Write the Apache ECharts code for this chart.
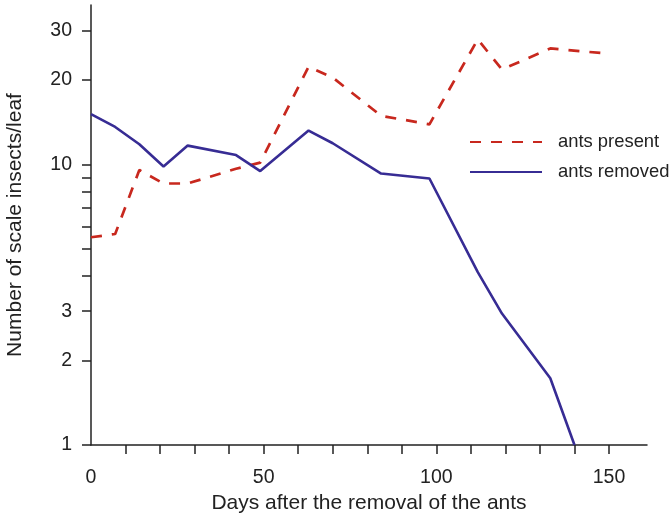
<!DOCTYPE html>
<html>
<head>
<meta charset="utf-8">
<script src="https://cdn.jsdelivr.net/npm/echarts@6/dist/echarts.min.js"></script>
<style>
  html, body { margin: 0; padding: 0; background: #fff; }
  #chart { width: 672px; height: 519px; }
</style>
</head>
<body>
<div id="chart"></div>
<script>
// Sampling days (days after ant removal)
const daysPresent = [0, 7, 14, 21, 28, 42, 49, 63, 70, 84, 98, 112, 119, 133, 150];
const antsPresent = [5.5, 5.65, 9.55, 8.55, 8.55, 9.65, 10.15, 22.3, 20.4, 14.9, 13.9, 27.9, 21.8, 25.9, 24.8];

const daysRemoved = [0, 7, 14, 21, 28, 42, 49, 63, 70, 84, 98, 112, 119, 133, 140];
const antsRemoved = [15.1, 13.6, 11.8, 9.83, 11.67, 10.8, 9.47, 13.2, 11.9, 9.28, 8.91, 4.13, 2.94, 1.73, 1.0];

// Axis ticks and labels
const xTicks = [10, 20, 30, 40, 50, 60, 70, 80, 90, 100, 110, 120, 130, 140, 150];
const xLabels = [0, 50, 100, 150];
const yTicks = [1, 2, 3, 4, 5, 6, 7, 8, 9, 10, 20, 30];
const yLabels = [1, 2, 3, 10, 20, 30];

const pairs = (xs, ys) => xs.map((x, i) => [x, ys[i]]);

const axisColor = '#222';
const font = '"Liberation Sans", Arial, sans-serif';

const chart = echarts.init(document.getElementById('chart'));
chart.setOption({
  animation: false,
  grid: { left: 91, top: 5, right: 25, bottom: 74, containLabel: false, outerBoundsMode: 'none' },
  legend: {
    orient: 'vertical',
    left: 464,
    top: 128,
    itemWidth: 72,
    itemHeight: 14,
    itemGap: 12,
    itemStyle: { opacity: 0 },
    textStyle: { fontFamily: font, fontSize: 18.4, color: '#222', padding: [0, 0, 0, 11] },
    data: ['ants present', 'ants removed']
  },
  xAxis: {
    type: 'value',
    min: 0,
    max: 161,
    name: 'Days after the removal of the ants',
    nameLocation: 'middle',
    nameGap: 45,
    nameTextStyle: { fontFamily: font, fontSize: 21, color: '#222' },
    splitLine: { show: false },
    axisLine: { lineStyle: { color: axisColor, width: 1.5 } },
    axisTick: { show: true, length: 9, customValues: xTicks, lineStyle: { color: axisColor, width: 1.5 } },
    axisLabel: { customValues: xLabels, margin: 23, fontFamily: font, fontSize: 19.5, color: '#222' }
  },
  yAxis: {
    type: 'log',
    logBase: 10,
    min: 1,
    max: 37,
    name: 'Number of scale insects/leaf',
    nameLocation: 'middle',
    nameGap: 65,
    nameTextStyle: { fontFamily: font, fontSize: 21, color: '#222' },
    splitLine: { show: false },
    axisLine: { show: true, lineStyle: { color: axisColor, width: 1.5 } },
    axisTick: { show: true, length: 9, customValues: yTicks, lineStyle: { color: axisColor, width: 1.5 } },
    axisLabel: { customValues: yLabels, margin: 19, fontFamily: font, fontSize: 19.5, color: '#222' }
  },
  series: [
    {
      name: 'ants present',
      type: 'line',
      data: pairs(daysPresent, antsPresent),
      symbol: 'none',
      color: '#c8281e',
      lineStyle: { color: '#c8281e', width: 2.7, type: [11, 10] }
    },
    {
      name: 'ants removed',
      type: 'line',
      data: pairs(daysRemoved, antsRemoved),
      symbol: 'none',
      color: '#372c94',
      lineStyle: { color: '#372c94', width: 2.6 }
    }
  ]
});
</script>
</body>
</html>
